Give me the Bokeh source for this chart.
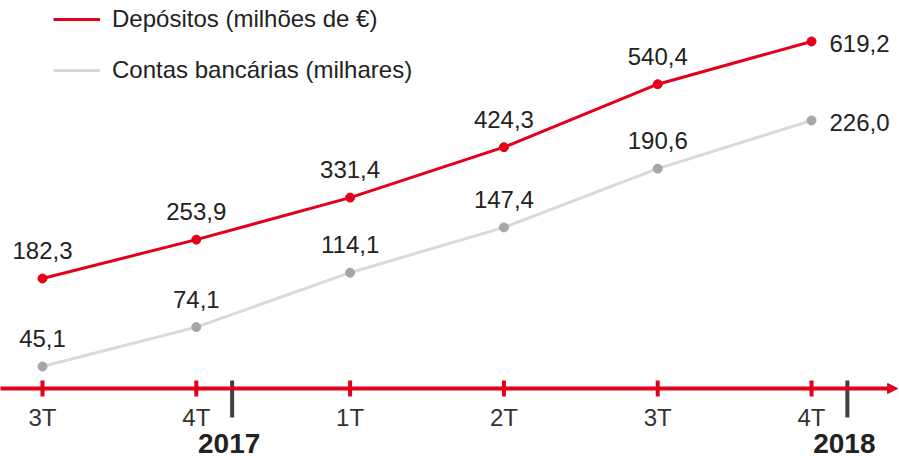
from bokeh.plotting import figure
from bokeh.models import Range1d, Legend, LegendItem, Arrow, NormalHead
from bokeh.core.properties import value
from bokeh.embed import file_html
from bokeh.resources import INLINE

# ---- data ----
quarters = ["3T", "4T", "1T", "2T", "3T", "4T"]
years = ["2017", "2018"]
year_last_quarter = [1, 5]          # index of the last quarter shown for each year
depositos = [182.3, 253.9, 331.4, 424.3, 540.4, 619.2]
contas = [45.1, 74.1, 114.1, 147.4, 190.6, 226.0]
series_names = ["Depósitos (milhões de €)", "Contas bancárias (milhares)"]

# ---- style ----
RED = "#E2001A"
GRAY_LINE = "#D9D9D9"
GRAY_DOT = "#A6A6A6"
TXT = "#222222"
FONT = "Liberation Sans"
W, H = 899, 458

def fmt(v):
    return f"{v:.1f}".replace(".", ",")

x = list(range(len(quarters)))

p = figure(width=W, height=H, output_backend="svg", toolbar_location=None,
           x_range=Range1d(-0.273, 5.572), y_range=Range1d(-149.5, 694.7),
           x_axis_type=None, y_axis_type=None, min_border=0,
           outline_line_color=None)
p.extra_y_ranges = {"contas": Range1d(-22.5, 314.2), "px": Range1d(0, H)}

# ---- baseline axis ----
axis_y = 70
p.add_layout(Arrow(x_start=-0.3, x_end=5.56, y_start=axis_y, y_end=axis_y,
                   y_range_name="px", line_color=RED, line_width=4,
                   end=NormalHead(size=10, fill_color=RED, line_color=RED, line_width=1)))
p.segment(x0=x, x1=x, y0=[axis_y - 8] * len(x), y1=[axis_y + 8] * len(x),
          line_color=RED, line_width=4, y_range_name="px")
p.text(x, [41] * len(x), text=quarters, text_align="center", text_baseline="alphabetic",
       text_font=value(FONT), text_font_size="24px", text_color="#333333", y_range_name="px")

sep_x = [i + 0.233 for i in year_last_quarter]
p.segment(x0=sep_x, x1=sep_x, y0=[41] * len(sep_x), y1=[axis_y + 8] * len(sep_x),
          line_color="#404040", line_width=4, y_range_name="px")
p.text(sep_x, [15] * len(sep_x), text=years, text_align="center", text_baseline="alphabetic",
       x_offset=-3, text_font=value(FONT), text_font_size="28px", text_font_style="bold",
       text_color=TXT, y_range_name="px")

# ---- series ----
r_dep = p.line(x, depositos, line_color=RED, line_width=3)
p.scatter(x, depositos, size=9, color=RED)
r_con = p.line(x, contas, line_color=GRAY_LINE, line_width=3, y_range_name="contas")
p.scatter(x, contas, size=9, color=GRAY_DOT, y_range_name="contas")

lbl = dict(text_font=value(FONT), text_font_size="24px", text_color=TXT,
           text_baseline="alphabetic")
p.text(x[:-1], depositos[:-1], text=[fmt(v) for v in depositos[:-1]],
       text_align="center", y_offset=-28, **lbl)
p.text(x[-1:], depositos[-1:], text=[fmt(v) for v in depositos[-1:]],
       text_align="left", x_offset=18, y_offset=2, **lbl)
p.text(x[:-1], contas[:-1], text=[fmt(v) for v in contas[:-1]],
       text_align="center", y_offset=-28, y_range_name="contas", **lbl)
p.text(x[-1:], contas[-1:], text=[fmt(v) for v in contas[-1:]],
       text_align="left", x_offset=18, y_offset=2, y_range_name="contas", **lbl)

# ---- legend ----
legend = Legend(items=[LegendItem(label=series_names[0], renderers=[r_dep]),
                       LegendItem(label=series_names[1], renderers=[r_con])],
                location=(53, H - 9 - 75), glyph_width=47, glyph_height=26,
                label_height=26, label_standoff=12, spacing=23, padding=0, margin=0,
                border_line_color=None, background_fill_alpha=0,
                label_text_font=FONT, label_text_font_size="24px",
                label_text_color=TXT)
p.add_layout(legend)

open("out.html", "w").write(file_html(p, INLINE))
